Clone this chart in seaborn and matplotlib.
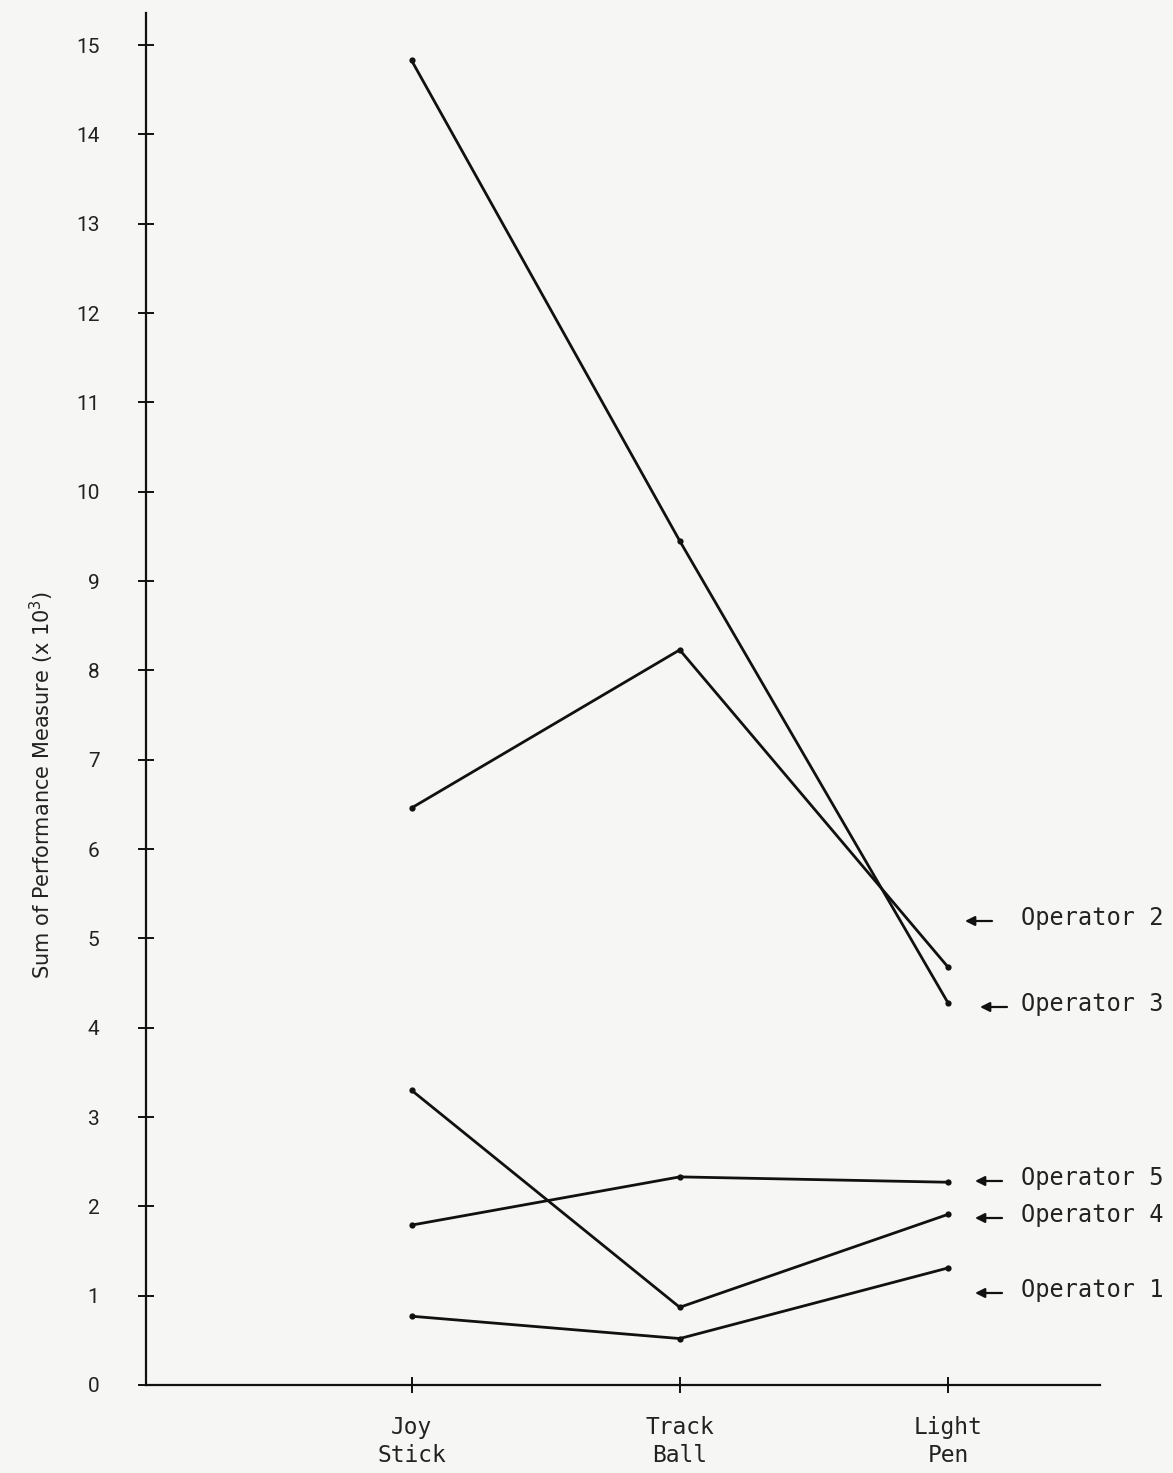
import matplotlib
matplotlib.use("Agg")
import matplotlib.pyplot as plt
import seaborn as sns
import pandas as pd

# ---- data ----
devices = ["Joy\nStick", "Track\nBall", "Light\nPen"]
operator_1 = [0.77, 0.52, 1.31]
operator_2 = [6.46, 8.23, 4.68]
operator_3 = [14.83, 9.45, 4.28]
operator_4 = [3.30, 0.87, 1.91]
operator_5 = [1.79, 2.33, 2.27]
operator_names = ["Operator 1", "Operator 2", "Operator 3", "Operator 4", "Operator 5"]
y_ticks = list(range(0, 16))
y_label = "Sum of Performance Measure (x 10$^3$)"

series = [operator_1, operator_2, operator_3, operator_4, operator_5]
rows = []
for name, vals in zip(operator_names, series):
    for d, v in zip(devices, vals):
        rows.append({"device": d, "value": v, "operator": name})
df = pd.DataFrame(rows)

sns.set_style("white")
plt.rcParams["font.family"] = ["DejaVu Sans"]

W, H = 1173, 1473
bg = "#f6f6f4"
fig = plt.figure(figsize=(W / 100, H / 100), dpi=100, facecolor=bg)
ax = fig.add_axes([146 / W, 1 - 1385 / H, (1100 - 146) / W, (1385 - 13) / H])
ax.set_facecolor(bg)

sns.lineplot(data=df, x="device", y="value", hue="operator",
             palette=["#111111"] * 5, marker="o", markersize=4.5,
             markeredgewidth=0, linewidth=2.0, legend=False, sort=False, ax=ax)

ax.set_xlim(-0.99, 2.567)
ax.set_ylim(0, 15.36)
ax.set_yticks(y_ticks)
ax.set_yticklabels([str(t) for t in y_ticks], family="Roboto", fontsize=15, color="#222222")
ax.set_xticks(range(len(devices)))
ax.set_xticklabels(devices, family="DejaVu Sans Mono", fontsize=16.5,
                   color="#222222", linespacing=1.25)
ax.set_xlabel("")
ax.set_ylabel("")

for s in ["top", "right"]:
    ax.spines[s].set_visible(False)
for s in ["left", "bottom"]:
    ax.spines[s].set_linewidth(1.6)
    ax.spines[s].set_color("#111111")

ax.tick_params(axis="y", left=True, direction="inout", length=11, width=1.4, pad=28, colors="#111111")
ax.tick_params(axis="x", bottom=True, direction="inout", length=11, width=1.4, pad=17, colors="#111111")
for lab in ax.get_yticklabels() + ax.get_xticklabels():
    lab.set_color("#222222")

fig.text(42 / W, 1 - 785 / H, y_label, rotation=90, ha="center", va="center",
         fontsize=15, color="#222222")

# operator annotations (arrows + labels)
ann = [("Operator 2", 921, 965, 992),
       ("Operator 3", 1007, 980, 1007),
       ("Operator 5", 1181, 975, 1002),
       ("Operator 4", 1218, 975, 1002),
       ("Operator 1", 1293, 975, 1002)]
for text, y, x_head, x_tail in ann:
    ax.annotate("", xy=(x_head, H - y), xytext=(x_tail, H - y),
                xycoords="figure pixels", textcoords="figure pixels",
                arrowprops=dict(arrowstyle="-|>", lw=1.6, color="#111111",
                                mutation_scale=14, shrinkA=0, shrinkB=0))
    fig.text(1021 / W, 1 - (y - 3) / H, text, family="DejaVu Sans Mono",
             fontsize=17, ha="left", va="center", color="#222222")

fig.savefig("out.png", dpi=100, facecolor=bg)
